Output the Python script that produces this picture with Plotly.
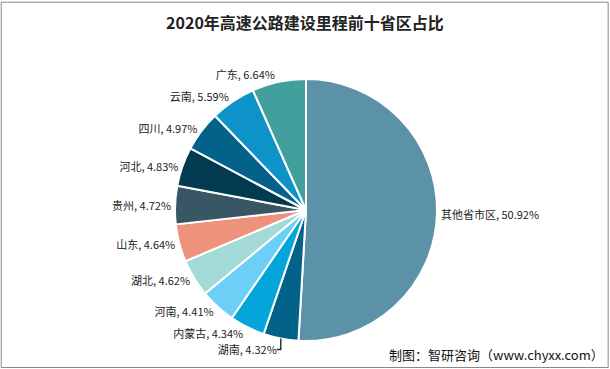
import plotly.graph_objects as go

labels = ["其他省市区", "湖南", "内蒙古", "河南", "湖北", "山东", "贵州", "河北", "四川", "云南", "广东"]
values = [50.92, 4.32, 4.34, 4.41, 4.62, 4.64, 4.72, 4.83, 4.97, 5.59, 6.64]
colors = ["#5B92A8", "#03628A", "#03A5DA", "#6DCFF5", "#A3D9D7", "#EE927B",
          "#385664", "#023A4F", "#03628A", "#0E93C9", "#41A09B"]

W, H = 610, 369
cx, cy, r = 306, 210, 131

fig = go.Figure(go.Pie(
    labels=labels,
    values=values,
    sort=False,
    direction="clockwise",
    rotation=0,
    marker=dict(colors=colors, line=dict(color="white", width=2)),
    texttemplate="%{label}, %{value:.2f}%",
    textposition="outside",
    textfont=dict(family="Noto Sans CJK SC", size=11, color="#222"),
    domain=dict(x=[(cx - r) / W, (cx + r) / W], y=[(H - cy - r) / H, (H - cy + r) / H]),
    showlegend=False,
    hoverinfo="label+percent",
))

fig.update_layout(
    width=W, height=H,
    margin=dict(l=0, r=0, t=0, b=0),
    paper_bgcolor="white",
    plot_bgcolor="white",
    title=dict(text="<b>2020年高速公路建设里程前十省区占比</b>",
               x=0.5, xanchor="center", y=1 - 23 / H, yanchor="middle",
               font=dict(family="Noto Sans CJK SC", size=16, color="#222")),
    shapes=[dict(type="rect", xref="paper", yref="paper", x0=0.002, x1=0.997, y0=0.004, y1=0.994,
                 line=dict(color="#888", width=1))],
    annotations=[dict(text="制图：智研咨询（www.chyxx.com）", xref="paper", yref="paper",
                      x=0.993, y=1 - 354 / H, xanchor="right", yanchor="middle", showarrow=False,
                      font=dict(family="Noto Sans CJK SC", size=13, color="#111"))],
)

fig.write_html("out.html", config={"displayModeBar": False},
               post_script="document.body.style.margin='0';document.body.style.overflow='hidden';")
